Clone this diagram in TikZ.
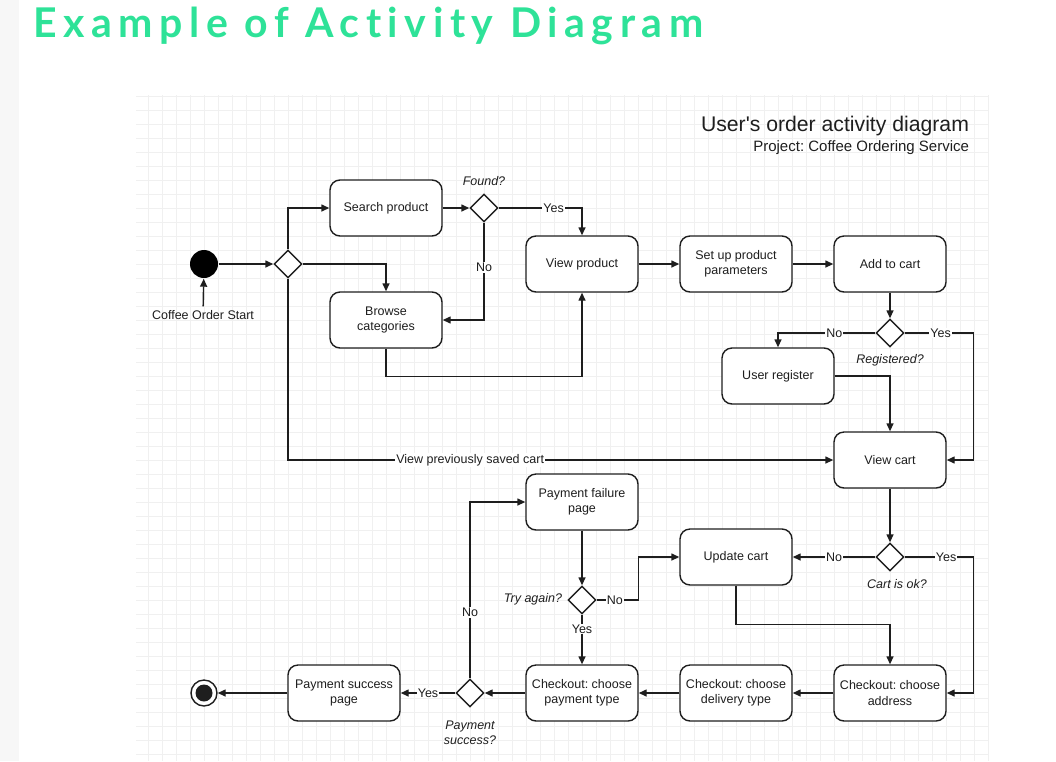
\documentclass[tikz,border=0pt]{standalone}
\usepackage{fontspec}
\setmainfont{Liberation Sans}
\newfontfamily\titlefont[LetterSpace=16,Ligatures={NoCommon}]{Lato}
\usetikzlibrary{arrows.meta,shapes.geometric}
\definecolor{titlegreen}{RGB}{46,226,152}
\definecolor{inkgray}{RGB}{30,30,30}
\definecolor{gridgray}{RGB}{240,240,240}
\definecolor{stripgray}{RGB}{247,247,247}

\begin{document}
\frenchspacing
\begin{tikzpicture}[x=1pt,y=-1pt,>={Triangle[length=8pt,width=7pt]},line width=1.4pt,font=\fontsize{12.5}{15.5}\selectfont]
        \tikzstyle{act}=[rectangle,draw=inkgray,fill=white,rounded corners=10pt,minimum width=112pt,minimum height=56pt,align=center,text=inkgray,inner sep=2pt]
        \tikzstyle{dec}=[diamond,draw=inkgray,fill=white,minimum width=28pt,minimum height=28pt,inner sep=0pt]
        \tikzstyle{flow}=[->,draw=inkgray]
        \tikzstyle{lbl}=[fill=white,inner sep=1pt,text=inkgray]
        \tikzstyle{cond}=[font=\fontsize{12.5}{15}\selectfont\itshape,text=inkgray,align=center]
        \tikzstyle{gridline}=[draw=gridgray,line width=0.5pt]
        \useasboundingbox (0,0) rectangle (1056,761);
        \fill[stripgray] (0,0) rectangle (19,761);
        \foreach \gx in {148,162,...,988} \draw[gridline] (\gx,95) -- (\gx,761);
        \foreach \gy in {96,110,...,754} \draw[gridline] (136,\gy) -- (989,\gy);

        \node[anchor=base west,text=titlegreen,font=\titlefont\bfseries\fontsize{41}{45}\selectfont] (title) at (29,37) {Example of Activity Diagram};
        \node[anchor=base east,text=inkgray,font=\fontsize{21.2}{25}\selectfont] (dtitle) at (973,131) {User\textquotesingle s order activity diagram};
        \node[anchor=base east,text=inkgray,font=\fontsize{15}{18}\selectfont] (project) at (973,151) {Project: Coffee Ordering Service};

        \begin{scope}
        \node[circle,fill=black,minimum size=28pt,inner sep=0pt] (start) at (204,264) {};
        \node[text=inkgray] (startlbl) at (203,315) {Coffee Order Start};
        \node[dec] (fork) at (288,264) {};
        \node[act] (search) at (386,208) {Search product};
        \node[dec] (found) at (484,208) {};
        \node[cond] (foundq) at (484,181) {Found?};
        \node[act] (browse) at (386,320) {Browse\\categories};
        \node[act] (view) at (582,264) {View product};
        \node[act] (setup) at (736,264) {Set up product\\parameters};
        \node[act] (add) at (890,264) {Add to cart};
        \node[dec] (reg) at (890,333) {};
        \node[cond] (regq) at (890,360) {Registered?};
        \node[act] (user) at (778,376) {User register};
        \node[act] (vcart) at (890,460) {View cart};
        \node[dec] (cartok) at (890,557) {};
        \node[cond] (cartokq) at (897,584) {Cart is ok?};
        \node[act] (update) at (736,557) {Update cart};
        \node[act] (fail) at (582,502) {Payment failure\\page};
        \node[dec] (try) at (582,600) {};
        \node[cond] (tryq) at (533,599) {Try again?};
        \node[act] (pay) at (582,693) {Checkout: choose\\payment type};
        \node[act] (deliv) at (736,693) {Checkout: choose\\delivery type};
        \node[act] (addr) at (890,693) {Checkout: choose\\address};
        \node[dec] (psucc) at (470,693) {};
        \node[cond] (psuccq) at (470,733) {Payment\\success?};
        \node[act] (spage) at (344,693) {Payment success\\page};
        \node[circle,draw=inkgray,fill=white,minimum size=26pt,inner sep=0pt] (stop) at (204,693) {};
        \fill[inkgray] (stop.center) circle (8.5pt);
        \end{scope}

        \draw[flow] (startlbl) -- (start);
        \draw[flow] (start) -- (fork);
        \draw[flow] (fork.north) |- (search.west);
        \draw[flow] (fork.east) -| (browse.north);
        \draw[flow] (fork.south) |- node[lbl,pos=0.667]{View previously saved cart} (vcart.west);
        \draw[flow] (search) -- (found);
        \draw[flow] (found.east) -| node[lbl,pos=0.33]{Yes} (view.north);
        \draw[flow] (found.south) |- node[lbl,pos=0.23]{No} (browse.east);
        \draw[flow] (browse.south) -- ++(0,28) -| (view.south);
        \draw[flow] (view) -- (setup);
        \draw[flow] (setup) -- (add);
        \draw[flow] (add) -- (reg);
        \draw[flow] (reg.west) -| node[lbl,pos=0.21]{No} (user.north);
        \draw[flow] (reg.east) -- node[lbl,pos=0.52]{Yes} ++(69,0) |- (vcart.east);
        \draw[flow] (user.east) -| (vcart.north);
        \draw[flow] (vcart) -- (cartok);
        \draw[flow] (cartok) -- node[lbl]{No} (update);
        \draw[flow] (cartok.east) -- node[lbl,pos=0.6]{Yes} ++(69,0) |- (addr.east);
        \draw[flow] (update.south) -- ++(0,39) -| (addr.north);
        \draw[flow] (addr) -- (deliv);
        \draw[flow] (deliv) -- (pay);
        \draw[flow] (pay) -- (psucc);
        \draw[flow] (psucc) -- node[lbl]{Yes} (spage);
        \draw[flow] (psucc.north) |- node[lbl,pos=0.186]{No} (fail.west);
        \draw[flow] (fail) -- (try);
        \draw[flow] (try.east) -- node[lbl,pos=0.43]{No} ++(42,0) |- (update.west);
        \draw[flow] (try) -- node[lbl,pos=0.29]{Yes} (pay);
        \draw[flow] (spage) -- (stop);
\end{tikzpicture}
\end{document}
